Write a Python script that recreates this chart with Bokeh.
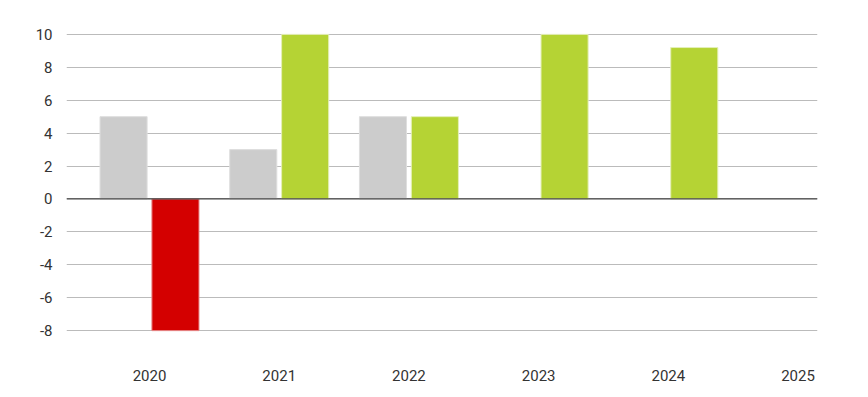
import numpy as np
from bokeh.plotting import figure
from bokeh.models import ColumnDataSource, Range1d, FixedTicker, Span
from bokeh.embed import file_html
from bokeh.resources import INLINE

years = ["2020", "2021", "2022", "2023", "2024", "2025"]
series_a = [5, 3, 5, None, None, None]
series_b = [-8, 10, 5, 10, 9.2, None]
y_ticks = [-8, -6, -4, -2, 0, 2, 4, 6, 8, 10]

gray = "#cccccc"
green = "#b5d334"
red = "#d40000"

xi = list(range(len(years)))
a_x, a_top = [], []
for i, v in zip(xi, series_a):
    if v is not None:
        a_x.append(i - 0.2); a_top.append(v)
b_x, b_top, b_col, b_line = [], [], [], []
for i, v in zip(xi, series_b):
    if v is not None:
        b_x.append(i + 0.2); b_top.append(v)
        b_col.append(red if v < 0 else green)
        b_line.append("#e88a8a" if v < 0 else "#e4efb8")

p = figure(frame_width=751, frame_height=316, output_backend="svg", toolbar_location=None,
           x_range=Range1d(-0.64, 5.15), y_range=Range1d(-8.6, 10.6),
           min_border_left=66, min_border_right=35, min_border_top=24, min_border_bottom=45)
p.outline_line_color = None
p.background_fill_color = "white"

p.vbar(x=a_x, top=a_top, bottom=0, width=0.363, fill_color=gray, line_color="#dedede", line_width=1)
p.vbar(x=b_x, top=b_top, bottom=0, width=0.363, fill_color=b_col, line_color=b_line, line_width=1)

p.add_layout(Span(location=0, dimension="width", line_color="#444444", line_width=1.3))

p.xgrid.grid_line_color = None
p.ygrid.grid_line_color = "#bbbbbb"
p.ygrid.grid_line_width = 1
p.yaxis.ticker = FixedTicker(ticks=y_ticks)
p.yaxis.major_label_overrides = {t: str(t) for t in y_ticks}
p.xaxis.ticker = FixedTicker(ticks=xi)
p.xaxis.major_label_overrides = {i: y for i, y in zip(xi, years)}

for ax in (p.xaxis, p.yaxis):
    ax.axis_line_color = None
    ax.major_tick_line_color = None
    ax.minor_tick_line_color = None
    ax.major_tick_out = 0
    ax.major_label_text_font = "Roboto"
    ax.major_label_text_font_size = "15px"
    ax.major_label_text_color = "#333333"
p.yaxis.major_label_standoff = 14
p.xaxis.major_label_standoff = 29

open("out.html", "w").write(file_html(p, INLINE))
